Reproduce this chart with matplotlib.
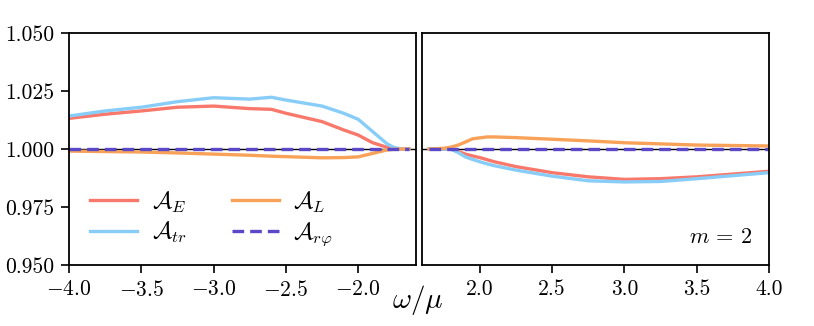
import numpy as np
import matplotlib
matplotlib.use('Agg')
import matplotlib.pyplot as plt

plt.rcParams['font.family'] = 'serif'
plt.rcParams['font.serif'] = ['cmr10']
plt.rcParams['mathtext.fontset'] = 'cm'
plt.rcParams['axes.formatter.use_mathtext'] = True

# left panel (omega < 0)
x_l = [-4.0, -3.75, -3.5, -3.25, -3.0, -2.75, -2.6, -2.5, -2.25, -2.1, -2.0, -1.9, -1.8, -1.75, -1.7, -1.65]
ae_l = [1.0132, 1.0150, 1.0164, 1.0180, 1.0185, 1.0174, 1.0171, 1.0154, 1.0118, 1.0082, 1.0060, 1.0027, 1.0007, 1.0002, 1.0, 1.0]
atr_l = [1.0142, 1.0164, 1.0180, 1.0204, 1.0221, 1.0215, 1.0223, 1.0211, 1.0185, 1.0154, 1.0128, 1.0075, 1.0022, 1.0006, 1.0, 1.0]
al_l = [0.9991, 0.9989, 0.9987, 0.9983, 0.9978, 0.9973, 0.9969, 0.9967, 0.9962, 0.9963, 0.9966, 0.9981, 0.9996, 0.9999, 1.0, 1.0]

# right panel (omega > 0)
x_r = [1.65, 1.75, 1.8, 1.85, 1.9, 1.95, 2.0, 2.05, 2.1, 2.25, 2.5, 2.75, 3.0, 3.25, 3.5, 3.75, 4.0]
ae_r = [1.0, 1.0, 1.0, 0.9990, 0.9978, 0.9970, 0.9963, 0.9954, 0.9945, 0.9924, 0.9898, 0.9880, 0.9869, 0.9872, 0.9880, 0.9892, 0.9904]
atr_r = [1.0, 1.0, 0.9999, 0.9985, 0.9966, 0.9955, 0.9945, 0.9936, 0.9928, 0.9909, 0.9883, 0.9863, 0.9858, 0.9860, 0.9872, 0.9885, 0.9898]
al_r = [1.0, 1.0003, 1.0008, 1.0017, 1.0030, 1.0044, 1.0048, 1.0052, 1.0052, 1.0049, 1.0042, 1.0035, 1.0027, 1.0022, 1.0017, 1.0015, 1.0013]

c_e = '#f8796b'
c_tr = '#88cdf8'
c_l = '#f7a258'
c_rp = '#5a48c8'

fig = plt.figure(figsize=(8.14, 3.26), dpi=100)
ax1 = fig.add_axes([0.0848, 0.1871, 0.4263, 0.7117])
ax2 = fig.add_axes([0.5184, 0.1871, 0.4263, 0.7117])

for ax, x, ae, atr, al in [(ax1, x_l, ae_l, atr_l, al_l), (ax2, x_r, ae_r, atr_r, al_r)]:
    ax.axhline(1.0, color='black', lw=1.0, zorder=1)
    ax.plot(x, ae, color=c_e, lw=2.4, label=r'$\mathcal{A}_E$')
    ax.plot(x, atr, color=c_tr, lw=2.4, label=r'$\mathcal{A}_{tr}$')
    ax.plot(x, al, color=c_l, lw=2.4, label=r'$\mathcal{A}_L$')
    ax.plot(x, np.ones(len(x)), color=c_rp, lw=2.4, ls=(0, (3.5, 1.8)), label=r'$\mathcal{A}_{r\varphi}$')
    ax.set_ylim(0.95, 1.05)
    ax.tick_params(labelsize=15.5, width=1.2, length=5.5, pad=5)
    for s in ax.spines.values():
        s.set_linewidth(1.3)

ax1.set_xlim(-4.0, -1.6)
ax1.set_xticks([-4.0, -3.5, -3.0, -2.5, -2.0])
ax1.set_yticks([0.95, 0.975, 1.0, 1.025, 1.05])
ax1.set_yticklabels(['0.950', '0.975', '1.000', '1.025', '1.050'])
ax1.set_xticklabels([r'$-4.0$', r'$-3.5$', r'$-3.0$', r'$-2.5$', r'$-2.0$'])

ax2.set_xlim(1.6, 4.0)
ax2.set_xticks([2.0, 2.5, 3.0, 3.5, 4.0])
ax2.set_xticklabels(['2.0', '2.5', '3.0', '3.5', '4.0'])
ax2.set_yticks([])
ax2.text(0.95, 0.12, r'$m\,=\,2$', transform=ax2.transAxes, ha='right', va='center', fontsize=16)

ax1.legend(ncol=2, frameon=False, loc='lower left', bbox_to_anchor=(0.0, -0.018),
           fontsize=17, handlelength=2.0, handletextpad=0.6, columnspacing=1.9,
           labelspacing=0.25)

fig.text(0.513, 0.08, r'$\omega/\mu$', ha='center', va='center', fontsize=21)

plt.savefig('out.png', dpi=100)
